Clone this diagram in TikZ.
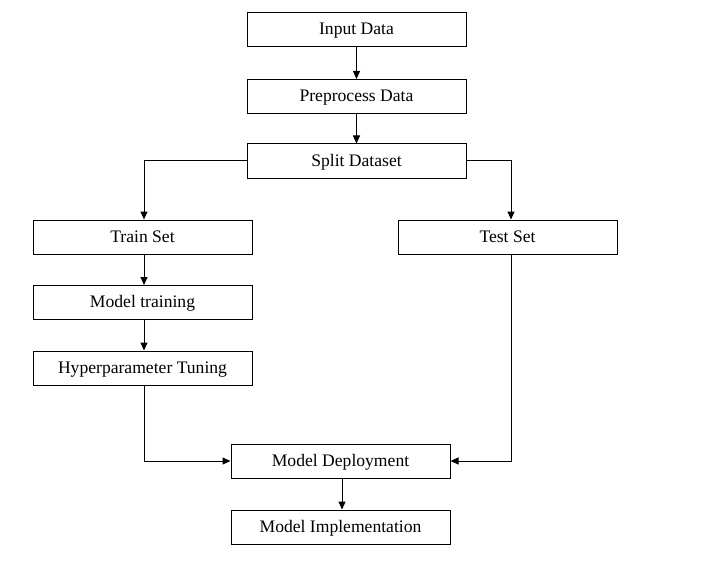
\documentclass[tikz,border=0pt]{standalone}
\usepackage{fontspec}
\setmainfont{Liberation Serif}
\usetikzlibrary{arrows.meta}
\begin{document}
\begin{tikzpicture}[x=1pt,y=-1pt,
  box/.style={draw=black,line width=1pt,minimum width=219pt,minimum height=34pt,inner sep=0pt,text height=12.5pt,text depth=2.5pt,font=\fontsize{17.6}{20}\selectfont},
  arr/.style={draw=black,line width=1pt,-{Triangle[length=8pt,width=7pt]}}]
\useasboundingbox[fill=white] (0,0) rectangle (711,572);
\node[box] (input) at (356.5,30) {Input Data};
\node[box] (pre) at (356.5,96.5) {Preprocess Data};
\node[box] (split) at (356.5,161) {Split Dataset};
\node[box] (train) at (142.5,237) {Train Set};
\node[box] (test) at (507.5,237) {Test Set};
\node[box] (mtrain) at (142.5,302.5) {Model training};
\node[box] (hyper) at (142.5,368) {Hyperparameter Tuning};
\node[box] (deploy) at (340.5,461) {Model Deployment};
\node[box] (impl) at (340.5,527) {Model Implementation};
\draw[arr] (input) -- (pre);
\draw[arr] (pre) -- (split);
\draw[arr] (split.west) -| ([xshift=1.5pt]train.north);
\draw[arr] (split.east) -| ([xshift=3.5pt]test.north);
\draw[arr] ([xshift=1.5pt]train.south) -- ([xshift=1.5pt]mtrain.north);
\draw[arr] ([xshift=1.5pt]mtrain.south) -- ([xshift=1.5pt]hyper.north);
\draw[arr] ([xshift=1.5pt]hyper.south) |- (deploy.west);
\draw[arr] ([xshift=3.5pt]test.south) |- (deploy.east);
\draw[arr] ([xshift=1.5pt]deploy.south) -- ([xshift=1.5pt]impl.north);
\end{tikzpicture}
\end{document}
